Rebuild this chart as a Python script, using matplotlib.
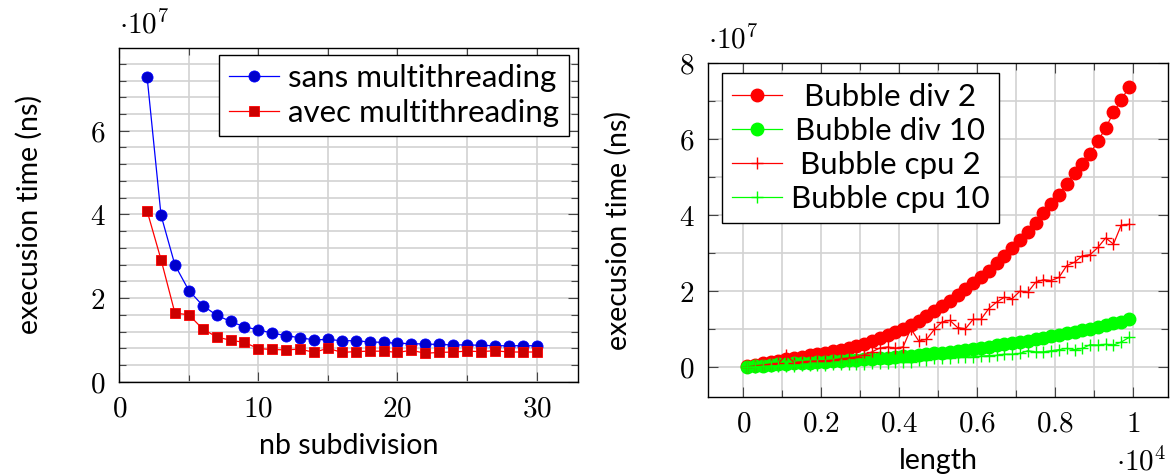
import matplotlib
matplotlib.use('Agg')
import matplotlib.pyplot as plt
from matplotlib.ticker import MultipleLocator, FuncFormatter
from matplotlib.transforms import Affine2D
import numpy as np

plt.rcParams['mathtext.fontset'] = 'cm'
plt.rcParams['font.family'] = ['Lato', 'DejaVu Sans']

# ---------------- left chart data (times in units of 1e7 ns) ----------------
nb_subdivision = list(range(2, 31))
sans_multithreading = [7.28, 3.98, 2.79, 2.18, 1.82, 1.59, 1.44, 1.31, 1.24, 1.16,
                       1.10, 1.05, 1.00, 1.01, 0.98, 0.98, 0.95, 0.94, 0.92, 0.91,
                       0.90, 0.89, 0.88, 0.88, 0.87, 0.86, 0.86, 0.86, 0.86]
avec_multithreading = [4.08, 2.92, 1.64, 1.60, 1.26, 1.07, 0.99, 0.94, 0.79, 0.77,
                       0.76, 0.78, 0.70, 0.80, 0.70, 0.72, 0.73, 0.73, 0.70, 0.75,
                       0.68, 0.70, 0.71, 0.73, 0.72, 0.74, 0.71, 0.71, 0.71]

# ---------------- right chart data (length in units of 1e4, times in 1e7 ns) ----------------
length = [0.01, 0.03, 0.05, 0.07, 0.09, 0.11, 0.13, 0.15, 0.17, 0.19,
          0.21, 0.23, 0.25, 0.27, 0.29, 0.31, 0.33, 0.35, 0.37, 0.39,
          0.41, 0.43, 0.45, 0.47, 0.49, 0.51, 0.53, 0.55, 0.57, 0.59,
          0.61, 0.63, 0.65, 0.67, 0.69, 0.71, 0.73, 0.75, 0.77, 0.79,
          0.81, 0.83, 0.85, 0.87, 0.89, 0.91, 0.93, 0.95, 0.97, 0.99]
bubble_div_2 = [0.02, 0.06, 0.10, 0.14, 0.17, 0.20, 0.23, 0.27, 0.31, 0.34,
                0.38, 0.42, 0.46, 0.50, 0.56, 0.62, 0.68, 0.76, 0.84, 0.93,
                1.01, 1.12, 1.21, 1.34, 1.47, 1.60, 1.75, 1.91, 2.06, 2.21,
                2.38, 2.54, 2.73, 2.93, 3.13, 3.34, 3.57, 3.80, 4.06, 4.30,
                4.54, 4.83, 5.11, 5.36, 5.61, 5.96, 6.29, 6.71, 7.03, 7.38]
bubble_div_10 = [0.00, 0.02, 0.04, 0.05, 0.07, 0.08, 0.10, 0.11, 0.12, 0.13,
                 0.14, 0.15, 0.16, 0.18, 0.19, 0.20, 0.22, 0.23, 0.25, 0.27,
                 0.28, 0.30, 0.32, 0.34, 0.36, 0.38, 0.40, 0.43, 0.45, 0.48,
                 0.51, 0.54, 0.57, 0.60, 0.63, 0.66, 0.70, 0.73, 0.77, 0.81,
                 0.85, 0.89, 0.93, 0.97, 1.01, 1.05, 1.10, 1.15, 1.20, 1.26]
bubble_cpu_2 = [0.00, 0.03, 0.05, 0.08, 0.10, 0.32, 0.12, 0.14, 0.15, 0.16,
                0.17, 0.18, 0.22, 0.24, 0.27, 0.32, 0.40, 0.50, 0.53, 0.50,
                0.53, 1.01, 0.69, 0.73, 0.99, 1.19, 1.23, 1.04, 1.01, 1.26,
                1.26, 1.54, 1.71, 1.84, 1.80, 2.00, 1.97, 2.23, 2.30, 2.28,
                2.36, 2.67, 2.76, 2.93, 2.96, 3.15, 3.40, 3.24, 3.74, 3.76]
bubble_cpu_10 = [0.00, 0.01, 0.02, 0.03, 0.03, 0.04, 0.04, 0.05, 0.05, 0.06,
                 0.06, 0.07, 0.07, 0.08, 0.09, 0.09, 0.10, 0.11, 0.12, 0.13,
                 0.14, 0.14, 0.18, 0.18, 0.23, 0.23, 0.25, 0.27, 0.27, 0.27,
                 0.29, 0.30, 0.31, 0.34, 0.34, 0.36, 0.43, 0.40, 0.40, 0.43,
                 0.46, 0.49, 0.46, 0.49, 0.59, 0.58, 0.60, 0.58, 0.66, 0.78]

W, H = 1172, 475
fig = plt.figure(figsize=(W / 100, H / 100), dpi=100)

GRID = '#d2d2d2'
TICKC = '#444444'
FS_TICK = 21
FS_LAB = 20.5
FS_LEG = 22.5


def px_axes(l, t, r, b):
    return fig.add_axes([l / W, 1 - b / H, (r - l) / W, (b - t) / H])


def style_axes(ax):
    for s in ax.spines.values():
        s.set_linewidth(1.0)
        s.set_color('black')
    ax.tick_params(which='both', direction='in', top=True, right=True,
                   color=TICKC, width=0.8)
    ax.tick_params(which='major', length=7, pad=10, labelsize=FS_TICK)
    ax.tick_params(which='minor', length=5)
    ax.grid(True, which='both', color=GRID, linewidth=1.2)
    ax.set_axisbelow(True)
    fmt = FuncFormatter(lambda v, p: '$%s$' % ('%g' % round(v, 6)))
    ax.xaxis.set_major_formatter(fmt)
    ax.yaxis.set_major_formatter(fmt)


def center_legend_texts(leg):
    fig.canvas.draw()
    r = fig.canvas.get_renderer()
    texts = leg.get_texts()
    widths = [t.get_window_extent(r).width for t in texts]
    mw = max(widths)
    for t, w in zip(texts, widths):
        t.set_transform(t.get_transform() + Affine2D().translate((mw - w) / 2, 0))


# ---------------- left axes ----------------
ax1 = px_axes(119.3, 48.3, 578.3, 381.7)
ax1.plot(nb_subdivision, sans_multithreading, color='#0000ff', lw=0.9,
         marker='o', ms=8, mfc='#0000cc', mec='#0000ff', mew=0.6,
         label='sans multithreading')
ax1.plot(nb_subdivision, avec_multithreading, color='#ff0000', lw=0.9,
         marker='s', ms=7.5, mfc='#cc0000', mec='#ff0000', mew=0.6,
         label='avec multithreading')
ax1.set_xlim(0, 33)
ax1.set_ylim(0, 7.97)
ax1.xaxis.set_major_locator(MultipleLocator(10))
ax1.xaxis.set_minor_locator(MultipleLocator(5))
ax1.yaxis.set_major_locator(MultipleLocator(2))
ax1.yaxis.set_minor_locator(MultipleLocator(0.4))
style_axes(ax1)
ax1.set_xlabel('nb subdivision', fontsize=FS_LAB, labelpad=8)
ax1.set_ylabel('execusion time (ns)', fontsize=FS_LAB, labelpad=34)
ax1.text(0.0, 1.03, r'$\cdot 10^{7}$', transform=ax1.transAxes,
         fontsize=FS_TICK, ha='left', va='bottom')
leg1 = ax1.legend(loc='upper right', bbox_to_anchor=(0.979, 0.98),
                  borderaxespad=0, fontsize=FS_LEG, frameon=True, fancybox=False,
                  edgecolor='black', framealpha=1, handlelength=1.6,
                  handletextpad=0.3, labelspacing=0.2, borderpad=0.3, numpoints=1)
leg1.get_frame().set_linewidth(1.0)

# ---------------- right axes ----------------
ax2 = px_axes(708.3, 63.3, 1168.0, 396.7)
xs = np.array(length)
ax2.plot(xs, bubble_div_2, color='#ff0000', lw=0.9, marker='o', ms=9,
         mfc='#ff0000', mec='#ff0000', label='Bubble div 2')
ax2.plot(xs, bubble_div_10, color='#00ff00', lw=0.9, marker='o', ms=9,
         mfc='#00ff00', mec='#00ff00', label='Bubble div 10')
ax2.plot(xs, bubble_cpu_2, color='#ff0000', lw=0.9, marker='+', ms=8,
         mew=1.0, label='Bubble cpu 2')
ax2.plot(xs, bubble_cpu_10, color='#00ff00', lw=0.9, marker='+', ms=8,
         mew=1.0, label='Bubble cpu 10')
ax2.set_xlim(-0.09, 1.09)
ax2.set_ylim(-0.78, 8.0)
ax2.xaxis.set_major_locator(MultipleLocator(0.2))
ax2.xaxis.set_minor_locator(MultipleLocator(0.1))
ax2.yaxis.set_major_locator(MultipleLocator(2))
ax2.yaxis.set_minor_locator(MultipleLocator(1))
style_axes(ax2)
ax2.set_xlabel('length', fontsize=FS_LAB, labelpad=8)
ax2.set_ylabel('execusion time (ns)', fontsize=FS_LAB, labelpad=34)
ax2.text(0.0, 1.03, r'$\cdot 10^{7}$', transform=ax2.transAxes,
         fontsize=FS_TICK, ha='left', va='bottom')
ax2.text(0.995, -0.222, r'$\cdot 10^{4}$', transform=ax2.transAxes,
         fontsize=FS_TICK, ha='right', va='baseline')
leg2 = ax2.legend(loc='upper left', bbox_to_anchor=(0.0305, 0.97),
                  borderaxespad=0, fontsize=FS_LEG, frameon=True, fancybox=False,
                  edgecolor='black', framealpha=1, handlelength=1.6,
                  handletextpad=0.3, labelspacing=0.2, borderpad=0.3, numpoints=1)
leg2.get_frame().set_linewidth(1.0)

center_legend_texts(leg2)

fig.savefig('out.png', dpi=100)
